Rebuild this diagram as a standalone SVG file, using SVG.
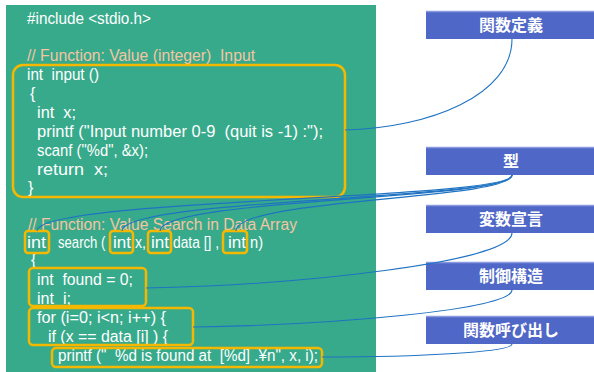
<svg xmlns="http://www.w3.org/2000/svg" width="594" height="372" viewBox="0 0 594 372">
<style>
.code{font-family:"Liberation Sans","Noto Sans CJK JP",sans-serif;font-size:16px;fill:#ffffff;white-space:pre;}
.cmt{fill:#F3C5A3;}
.hl{fill:none;stroke:#F5B800;stroke-width:2.5;}
.box{fill:#4F67C6;}
.boxtop{stroke:#8A9AE0;stroke-width:1.5;}
.lbl{font-family:"Noto Sans CJK JP","Noto Sans CJK SC",sans-serif;font-size:16px;font-weight:bold;fill:#ffffff;text-anchor:middle;}
.con{fill:none;stroke:#1F73C2;stroke-width:1.1;}
</style>
<rect id="panel" x="6" y="5" width="370" height="367" fill="#37AA8B"/>
<g id="code">
<text class="code" x="27" y="24" textLength="124" lengthAdjust="spacingAndGlyphs">#include &lt;stdio.h&gt;</text>
<text class="code cmt" x="27" y="61" textLength="228" lengthAdjust="spacingAndGlyphs">// Function: Value (integer)  Input</text>
<text class="code" x="27" y="80" textLength="72" lengthAdjust="spacingAndGlyphs">int  input ()</text>
<text class="code" x="30" y="99">{</text>
<text class="code" x="37" y="118" textLength="39" lengthAdjust="spacingAndGlyphs">int  x;</text>
<text class="code" x="37" y="137" textLength="286" lengthAdjust="spacingAndGlyphs">printf ("Input number 0-9  (quit is -1) :");</text>
<text class="code" x="37" y="156" textLength="111" lengthAdjust="spacingAndGlyphs">scanf ("%d", &amp;x);</text>
<text class="code" x="37" y="175" textLength="71" lengthAdjust="spacingAndGlyphs">return  x;</text>
<text class="code" x="28" y="193">}</text>
<text class="code cmt" x="28" y="230" textLength="269" lengthAdjust="spacingAndGlyphs">// Function: Value Search in Data Array</text>
<text class="code" x="27" y="248" textLength="19" lengthAdjust="spacingAndGlyphs">int</text>
<text class="code" transform="translate(58,248) scale(0.82,1)" x="0" y="0">search (</text>
<text class="code" x="113" y="248" textLength="18" lengthAdjust="spacingAndGlyphs">int</text>
<text class="code" x="135" y="248" textLength="11" lengthAdjust="spacingAndGlyphs">x,</text>
<text class="code" x="151" y="248" textLength="18" lengthAdjust="spacingAndGlyphs">int</text>
<text class="code" x="173" y="248" textLength="46" lengthAdjust="spacingAndGlyphs">data [] ,</text>
<text class="code" x="228" y="248" textLength="18" lengthAdjust="spacingAndGlyphs">int</text>
<text class="code" x="250" y="248" textLength="13" lengthAdjust="spacingAndGlyphs">n)</text>
<text class="code" x="31" y="265">{</text>
<text class="code" x="37" y="285" textLength="96" lengthAdjust="spacingAndGlyphs">int  found = 0;</text>
<text class="code" x="37" y="304" textLength="34" lengthAdjust="spacingAndGlyphs">int  i;</text>
<text class="code" x="37" y="323" textLength="129" lengthAdjust="spacingAndGlyphs">for (i=0; i&lt;n; i++) {</text>
<text class="code" x="48" y="342" textLength="120" lengthAdjust="spacingAndGlyphs">if (x == data [i] ) {</text>
<text class="code" x="58" y="361" textLength="260" lengthAdjust="spacingAndGlyphs">printf ("  %d is found at  [%d] .¥n", x, i);</text>
</g>
<g id="highlights">
<rect class="hl" x="25" y="231" width="24" height="22" rx="3"/>
<rect class="hl" x="13" y="65" width="332" height="132" rx="10"/>
<rect class="hl" x="110" y="231" width="23" height="22" rx="3"/>
<rect class="hl" x="148" y="231" width="23" height="22" rx="3"/>
<rect class="hl" x="223" y="231" width="24" height="22" rx="3"/>
<rect class="hl" x="29" y="268" width="117" height="38" rx="4"/>
<rect class="hl" x="29" y="308" width="164" height="37" rx="4"/>
<rect class="hl" x="52" y="348" width="270" height="19" rx="4"/>
</g>
<g id="n1"><rect class="box" x="426" y="11" width="168" height="28"/><line class="boxtop" x1="426" y1="11.5" x2="594" y2="11.5"/><text class="lbl" x="511" y="31">関数定義</text></g>
<g id="n2"><rect class="box" x="426" y="147" width="168" height="28"/><line class="boxtop" x1="426" y1="147.5" x2="594" y2="147.5"/><text class="lbl" x="511" y="167">型</text></g>
<g id="n3"><rect class="box" x="426" y="205" width="168" height="28"/><line class="boxtop" x1="426" y1="205.5" x2="594" y2="205.5"/><text class="lbl" x="511" y="225">変数宣言</text></g>
<g id="n4"><rect class="box" x="426" y="262" width="168" height="28"/><line class="boxtop" x1="426" y1="262.5" x2="594" y2="262.5"/><text class="lbl" x="511" y="282">制御構造</text></g>
<g id="n5"><rect class="box" x="426" y="316" width="168" height="28"/><line class="boxtop" x1="426" y1="316.5" x2="594" y2="316.5"/><text class="lbl" x="511" y="336">関数呼び出し</text></g>
<g id="connectors">
<path class="con" d="M512,39 C512,95 430,128 345,130"/>
<path class="con" d="M512,175 C512,200 37,198 37,231"/>
<path class="con" d="M512,175 C512,200 122,198 122,231"/>
<path class="con" d="M512,175 C512,200 160,198 160,231"/>
<path class="con" d="M512,175 C512,200 236,198 236,231"/>
<path class="con" d="M512,233 C512,262 300,285 146,288"/>
<path class="con" d="M512,290 C512,310 330,325 193,327"/>
<path class="con" d="M512,344 C512,352 420,357 322,357"/>
</g>
</svg>
